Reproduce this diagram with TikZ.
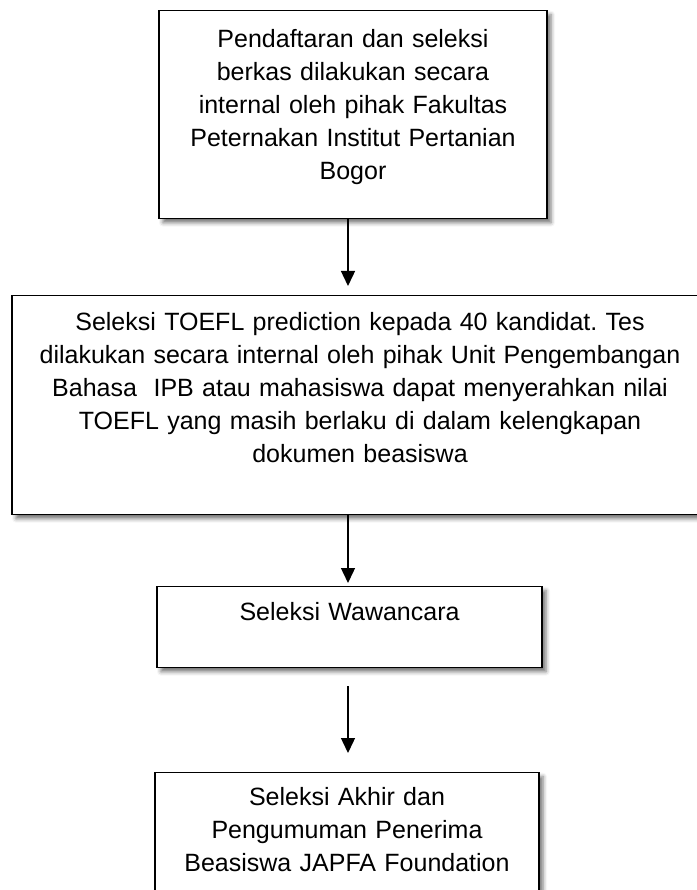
\documentclass[tikz,border=0pt]{standalone}
\usepackage{fontspec}
\setmainfont{Liberation Sans}
\usepackage{tikz}
\usetikzlibrary{arrows.meta,shadows.blur}
\frenchspacing

\tikzset{
    kotak/.style={draw, line width=1.4pt, fill=white, inner xsep=0pt, inner ysep=0pt,
        align=center, font=\fontsize{25}{33}\selectfont, anchor=north,
        blur shadow={shadow xshift=4pt, shadow yshift=-4pt, shadow blur radius=4pt, shadow opacity=55}},
    panah/.style={line width=1.4pt, -{Triangle[length=15pt,width=14pt]}}
}

\begin{document}
\begin{tikzpicture}[x=1pt, y=1pt]
\useasboundingbox (0,0) rectangle (696,-890);

\node[kotak, text width=388pt, text height=37pt, text depth=171pt] (daftar) at (353,-10) {
    Pendaftaran dan seleksi\\
    berkas dilakukan secara\\
    internal oleh pihak Fakultas\\
    Peternakan Institut Pertanian\\
    Bogor};
\node[kotak, text width=696pt, text height=35pt, text depth=184pt] (toefl) at (360,-295) {
    Seleksi TOEFL prediction kepada 40 kandidat. Tes\\
    dilakukan secara internal oleh pihak Unit Pengembangan\\
    Bahasa \ IPB atau mahasiswa dapat menyerahkan nilai\\
    TOEFL yang masih berlaku di dalam kelengkapan\\
    dokumen beasiswa};
\node[kotak, text width=385pt, text height=34pt, text depth=47pt] (wawancara) at (349.5,-586) {
    Seleksi Wawancara};
\node[kotak, text width=384pt, text height=33pt, text depth=130pt] (akhir) at (347,-772) {
    Seleksi Akhir dan\\
    Pengumuman Penerima\\
    Beasiswa JAPFA Foundation};

% arrows between the steps
\draw[panah] ([xshift=-5pt]daftar.south) -- ([xshift=-12pt,yshift=9pt]toefl.north);
\draw[panah] ([xshift=-12pt]toefl.south) -- ([xshift=-1.5pt,yshift=3pt]wawancara.north);
\draw[panah] ([xshift=-1.5pt,yshift=-18pt]wawancara.south) -- ([xshift=1pt,yshift=19pt]akhir.north);
\end{tikzpicture}
\end{document}
